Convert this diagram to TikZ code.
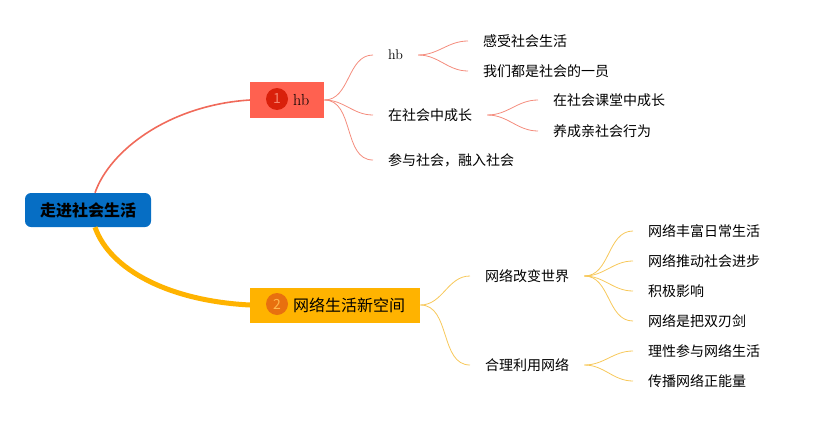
\documentclass[tikz,border=0pt]{standalone}
\usepackage{fontspec}
\newfontfamily\cjk{Noto Sans CJK SC}
\definecolor{rootblue}{RGB}{6,110,196}
\definecolor{redbox}{RGB}{255,97,80}
\definecolor{redbadge}{RGB}{217,32,11}
\definecolor{redtext}{RGB}{245,131,111}
\definecolor{redline}{RGB}{240,106,90}
\definecolor{redthin}{RGB}{244,140,125}
\definecolor{yellowbox}{RGB}{255,179,0}
\definecolor{yellowbadge}{RGB}{232,112,15}
\definecolor{yellowtext}{RGB}{255,184,77}
\definecolor{yellowthin}{RGB}{247,200,90}
\begin{document}
\begin{tikzpicture}
		[x=1pt,y=1pt,
		root/.style={fill=rootblue, rounded corners=6pt, minimum width=126pt,
			minimum height=34pt, font=\cjk\bfseries\fontsize{16}{16}\selectfont},
		topic/.style={anchor=west, minimum height=36pt, inner xsep=0pt,
			font=\fontsize{16}{16}\selectfont},
		badge/.style={circle, minimum size=22pt, inner sep=0pt,
			font=\cjk\fontsize{14}{14}\selectfont},
		sub/.style={anchor=west, inner xsep=15pt, inner ysep=2pt,
			font=\cjk\fontsize{14}{14}\selectfont},
		redthin/.style={draw=redthin, line width=0.8pt},
		yellowthin/.style={draw=yellowthin, line width=0.8pt}]
		\useasboundingbox (0,0) rectangle (821,-420);
		% central topic
		\node[root] (root) at (88,-210) {走进社会生活};
		% main topics
		\node[topic, fill=redbox, minimum width=74pt] (t1) at (250,-100) {\hspace*{28pt}hb};
		\node[badge, fill=redbadge, text=redtext] (b1) at (277,-99) {1};
		\node[topic, fill=yellowbox, minimum width=170pt, minimum height=35pt] (t2) at (250,-305)
			{\hspace*{28pt}\cjk 网络生活新空间};
		\node[badge, fill=yellowbadge, text=yellowtext] (b2) at (277,-304) {2};
		\draw[redline, line width=1.6pt] ([xshift=7pt]root.north)
			.. controls +(15,43) and +(-80,-5) .. (t1.west);
		\draw[yellowbox, line width=5pt] ([xshift=7pt]root.south)
			.. controls +(15,-43) and +(-80,4) .. (t2.west);
		% branch 1
		\node[sub, font=\fontsize{14}{14}\selectfont] (s11) at (373,-55) {hb};
		\node[sub] (s12) at (373,-115) {在社会中成长};
		\node[sub] (s13) at (373,-160) {参与社会，融入社会};
		\node[sub] (s111) at (468,-41) {感受社会生活};
		\node[sub] (s112) at (468,-71) {我们都是社会的一员};
		\node[sub] (s121) at (538,-100) {在社会课堂中成长};
		\node[sub] (s122) at (538,-131) {养成亲社会行为};
		\draw[redthin] (t1.east) to[out=0,in=180] (s11.west);
		\draw[redthin] (t1.east) to[out=0,in=180] (s12.west);
		\draw[redthin] (t1.east) to[out=0,in=180] (s13.west);
		\draw[redthin] (s11.east) to[out=0,in=180] (s111.west);
		\draw[redthin] (s11.east) to[out=0,in=180] (s112.west);
		\draw[redthin] (s12.east) to[out=0,in=180] (s121.west);
		\draw[redthin] (s12.east) to[out=0,in=180] (s122.west);
		% branch 2
		\node[sub] (s21) at (470,-276) {网络改变世界};
		\node[sub] (s22) at (470,-365) {合理利用网络};
		\node[sub] (s211) at (633,-231) {网络丰富日常生活};
		\node[sub] (s212) at (633,-261) {网络推动社会进步};
		\node[sub] (s213) at (633,-291) {积极影响};
		\node[sub] (s214) at (633,-321) {网络是把双刃剑};
		\node[sub] (s221) at (633,-351) {理性参与网络生活};
		\node[sub] (s222) at (633,-381) {传播网络正能量};
		\draw[yellowthin] (t2.east) to[out=0,in=180] (s21.west);
		\draw[yellowthin] (t2.east) to[out=0,in=180] (s22.west);
		\draw[yellowthin] (s21.east) to[out=0,in=180] (s211.west);
		\draw[yellowthin] (s21.east) to[out=0,in=180] (s212.west);
		\draw[yellowthin] (s21.east) to[out=0,in=180] (s213.west);
		\draw[yellowthin] (s21.east) to[out=0,in=180] (s214.west);
		\draw[yellowthin] (s22.east) to[out=0,in=180] (s221.west);
		\draw[yellowthin] (s22.east) to[out=0,in=180] (s222.west);
	\end{tikzpicture}
\end{document}
